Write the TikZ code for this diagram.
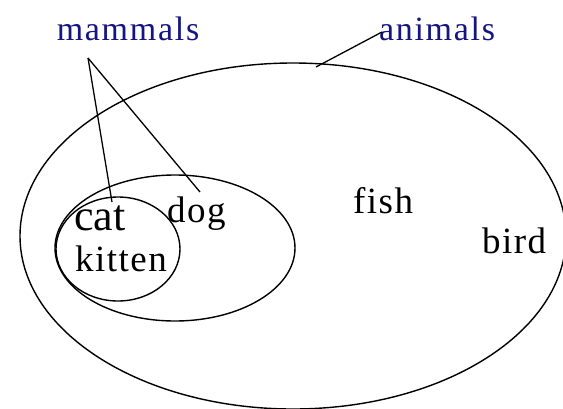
\documentclass[tikz,border=0pt]{standalone}
\usepackage{fontspec}
\setmainfont{Liberation Serif}
\newfontfamily\spacedfont[LetterSpace=5]{Liberation Serif}
\newfontfamily\blackspaced[LetterSpace=4]{Liberation Serif}
\definecolor{navyblue}{RGB}{20,20,130}
\begin{document}
\begin{tikzpicture}[x=1pt,y=-1pt,
  setline/.style={line width=1.4pt},
  conn/.style={line width=1.3pt},
  bluelabel/.style={inner sep=0pt,anchor=base,text=navyblue,font=\spacedfont\fontsize{34}{38}\selectfont},
  blacklabel/.style={inner sep=0pt,anchor=base west,text=black,font=\blackspaced\fontsize{37}{42}\selectfont}]
\useasboundingbox (0,0) rectangle (563,408);
\begin{scope}
\clip (0,0) rectangle (563,408);
\draw[setline] (293,236) ellipse [x radius=273pt, y radius=173pt];
\end{scope}
\draw[setline] (175,248) ellipse [x radius=120pt, y radius=73pt];
\draw[setline] (118,249) ellipse [x radius=62pt, y radius=52pt];
\node[bluelabel] (mammals) at (128,40) {mammals};
\node[bluelabel] (animals) at (437,40) {animals};
\node[blacklabel,font=\fontsize{44}{48}\selectfont] (cat) at (74,230) {cat};
\node[blacklabel] (kitten) at (75,271) {kitten};
\node[blacklabel] (dog) at (167,222) {dog};
\node[blacklabel] (fish) at (353,213) {fish};
\node[blacklabel] (bird) at (482,253) {bird};
\coordinate (mtip) at (88,58);
\coordinate (catend) at (112,202);
\coordinate (dogend) at (200,192);
\coordinate (atip) at (382,32);
\coordinate (aend) at (316,67);
\draw[conn] (mtip) -- (catend);
\draw[conn] (mtip) -- (dogend);
\draw[conn] (atip) -- (aend);
\end{tikzpicture}
\end{document}
